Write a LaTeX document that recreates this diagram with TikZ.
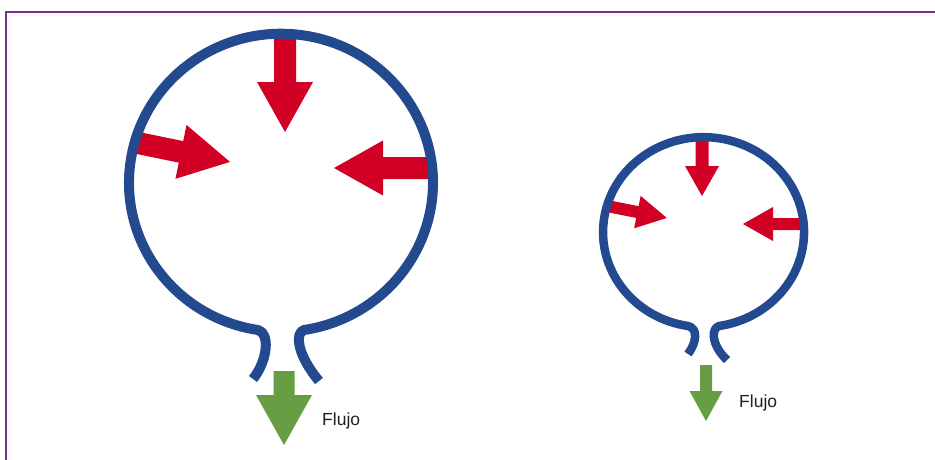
\documentclass[tikz,border=0pt]{standalone}
\usepackage{fontspec}
\setmainfont{Liberation Sans}
\definecolor{wallblue}{RGB}{35,74,143}
\definecolor{pressred}{RGB}{209,0,36}
\definecolor{flowgreen}{RGB}{104,158,67}
\definecolor{framepurple}{RGB}{123,45,142}
\definecolor{labelgray}{RGB}{35,31,32}
% block arrow: colour, start x, start y, angle, length, shaft width, head width, head length
\newcommand{\blockarrow}[8]{%
  \fill[#1,shift={(#2,#3)},rotate=#4]
    (0,{-#6/2}) -- ({#5-#8},{-#6/2}) -- ({#5-#8},{-#7/2}) -- (#5,0)
    -- ({#5-#8},{#7/2}) -- ({#5-#8},{#6/2}) -- (0,{#6/2}) -- cycle;}
\begin{document}
\begin{tikzpicture}[x=1pt,y=-1pt,
  frame/.style={draw=framepurple,line width=2pt},
  wall/.style={draw=wallblue,line cap=butt,line join=round},
  flow/.style={text=labelgray,font=\fontsize{17.5}{20}\selectfont,inner sep=0pt}]
\useasboundingbox (0,0) rectangle (935,459);
\clip (0,0) rectangle (935,459);
\fill[white] (0,0) rectangle (935,459);
\draw[frame] (6,12) rectangle (980,500);

% large bubble: inward pressure arrows
\blockarrow{pressred}{285}{34}{-90}{98}{22}{56}{50}
\blockarrow{pressred}{133}{142}{-11.6}{99}{22}{55}{50}
\blockarrow{pressred}{434}{168}{180}{100}{22}{55}{49}
% large bubble wall with its neck
\draw[wall,line width=10pt]
  (253,379) .. controls (268,360) and (270,333) .. (258,330)
  arc[start angle=98.7,end angle=441.3,x radius=152,y radius=149]
  .. controls (296,332) and (295,352) .. (319,381);
% outflow of the large bubble
\blockarrow{flowgreen}{284}{371}{-90}{74}{21}{56}{50}
\node[flow,anchor=base west] (flowA) at (322,425) {Flujo};

% small bubble: inward pressure arrows
\blockarrow{pressred}{702}{137}{-90}{59}{13}{34}{30}
\blockarrow{pressred}{607}{206}{-11.3}{61}{12}{33}{30}
\blockarrow{pressred}{804}{224}{180}{61}{12}{34}{30}
% small bubble wall with its neck
\draw[wall,line width=8.5pt]
  (688,354) .. controls (697,342) and (698,328) .. (688,326)
  arc[start angle=98.9,end angle=441.1,x radius=100.5,y radius=95]
  .. controls (711,328) and (711,345) .. (727,360);
% outflow of the small bubble
\blockarrow{flowgreen}{706}{365}{-90}{56}{12}{33}{30}
\node[flow,anchor=base west] (flowB) at (739,407) {Flujo};
\end{tikzpicture}
\end{document}
